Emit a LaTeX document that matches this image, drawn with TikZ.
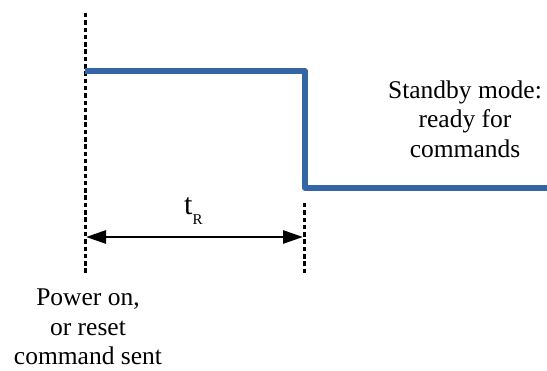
\documentclass[tikz,border=0pt]{standalone}
\usepackage{fontspec}
\setmainfont{Liberation Serif}
\usetikzlibrary{arrows.meta}
\definecolor{sigblue}{HTML}{3465A4}
\tikzset{
  guide/.style={line width=3pt, dash pattern=on 4.5pt off 2.8pt},
  signal/.style={line width=5.5pt, sigblue, line join=round},
  dim/.style={line width=2.8pt, {Triangle[length=20pt,width=13pt]}-{Triangle[length=20pt,width=13pt]}},
  lbl/.style={font=\fontsize{25.5}{29.5}\selectfont, align=center, inner sep=0pt}
}
\begin{document}
\begin{tikzpicture}[x=1pt,y=-1pt]
\useasboundingbox (0,0) rectangle (547,371);
% guides
\coordinate (g1t) at (85,13);
\coordinate (g1b) at (85,273);
\coordinate (g2t) at (304,203);
\coordinate (g2b) at (304,275);
\draw[guide] (g1t) -- (g1b);
\draw[guide] (g2t) -- (g2b);
% signal
\coordinate (s0) at (85,71);
\coordinate (s1) at (305,71);
\coordinate (s2) at (305,188);
\coordinate (s3) at (550,188);
\draw[signal] (s0) -- (s1) -- (s2) -- (s3);
% dimension arrow
\coordinate (a1) at (86,237);
\coordinate (a2) at (303,237);
\draw[dim] (a1) -- (a2);
\node[inner sep=0pt, anchor=base west] (tr) at (184,215) {\fontsize{30}{30}\selectfont t\raisebox{-10pt}{\fontsize{15}{15}\selectfont R}};
% labels
\node[lbl] (standby) at (465,119) {Standby mode:\\ready for\\commands};
\node[lbl] (power) at (88,327) {Power on,\\or reset\\command sent};
\end{tikzpicture}
\end{document}
